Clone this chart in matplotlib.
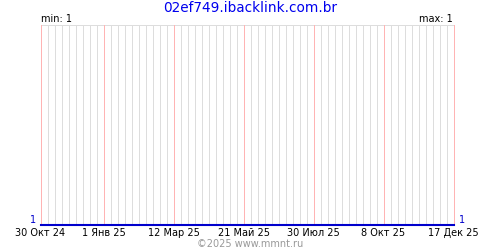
import pandas as pd
import matplotlib.pyplot as plt

# chart data
site = "02ef749.ibacklink.com.br"
dates = ["2024-10-30", "2025-12-17"]
values = [1, 1]
tick_dates = ["2024-10-30", "2025-01-01", "2025-03-12", "2025-05-21",
              "2025-07-30", "2025-10-08", "2025-12-17"]
tick_labels = ["30 Окт 24", "1 Янв 25", "12 Мар 25", "21 Май 25",
               "30 Июл 25", "8 Окт 25", "17 Дек 25"]

plt.rcParams['font.family'] = ['DejaVu Sans']

x = pd.to_datetime(dates)
ticks = pd.to_datetime(tick_dates)
weeks = pd.date_range(x[0], x[-1], freq='7D')

fig = plt.figure(figsize=(5, 2.5), dpi=100)
# half-pixel offset so 1px grid lines land on pixel centres
ax = fig.add_axes([40.5 / 500, 0.1, 413 / 500, 0.8])

# weekly grid, pink lines under the date labels
ax.vlines([w for w in weeks if w not in ticks], 0, 1,
          transform=ax.get_xaxis_transform(), color='#dddddd', lw=0.72,
          zorder=1, antialiased=False)
ax.vlines(ticks, 0, 1, transform=ax.get_xaxis_transform(), color='#ffb4b4',
          lw=0.72, zorder=2, antialiased=False, clip_on=False)
ax.axhline(max(values) + 1, color='#dddddd', lw=0.72, zorder=1,
           antialiased=False, clip_on=False)

ax.plot(x, values, color='#0000cc', lw=1.5, zorder=3, clip_on=False)

ax.set_xlim(x[0], x[-1])
ax.set_ylim(min(values), max(values) + 1)
for s in ax.spines.values():
    s.set_visible(False)
ax.set_yticks([])
ax.set_xticks(ticks)
ax.set_xticklabels(tick_labels, fontsize=7)
ax.tick_params(axis='x', length=0, pad=2)

fig.text(0.5, 0.995, site, ha='center', va='top', color='#0000ee', fontsize=9.8)
fig.text(0.082, 0.905, f"min: {min(values)}", ha='left', va='bottom', fontsize=7)
fig.text(0.905, 0.905, f"max: {max(values)}", ha='right', va='bottom', fontsize=7)
fig.text(0.072, 0.1, str(values[0]), ha='right', va='bottom', color='#0000cc', fontsize=7)
fig.text(0.918, 0.1, str(values[-1]), ha='left', va='bottom', color='#0000cc', fontsize=7)
fig.text(0.5, 0.005, "©2025 www.mmnt.ru", ha='center', va='bottom', color='#999999', fontsize=7)

fig.savefig('out.png')
